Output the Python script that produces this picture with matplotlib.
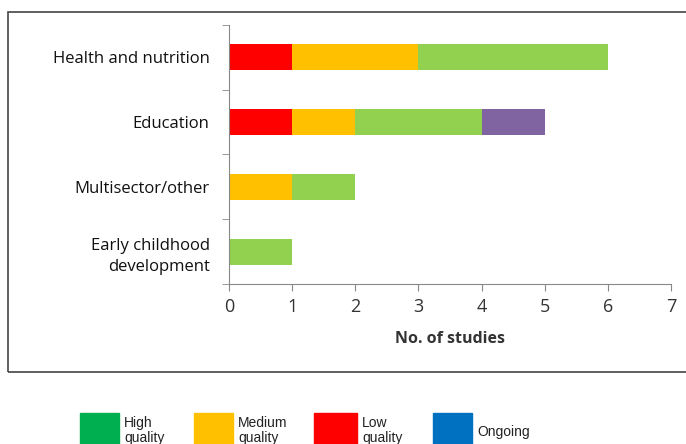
import matplotlib.pyplot as plt
from matplotlib.patches import Rectangle

# categories (top to bottom) and stacked segment values
categories = ["Health and nutrition", "Education", "Multisector/other", "Early childhood\ndevelopment"]
low_quality = [1, 1, 0, 0]
medium_quality = [2, 1, 1, 0]
high_quality = [3, 2, 1, 1]
other = [0, 1, 0, 0]

series = [low_quality, medium_quality, high_quality, other]
bar_colors = ["#ff0000", "#ffc000", "#92d050", "#8064a2"]

legend_labels = ["High\nquality", "Medium\nquality", "Low\nquality", "Ongoing"]
legend_colors = ["#00b050", "#ffc000", "#ff0000", "#0070c0"]

fig = plt.figure(figsize=(6.86, 4.44), dpi=100)
W, H = 686, 444

# outer frame around the chart (right side runs off the canvas)
fig.patches.append(Rectangle((8 / W, 1 - 372 / H), 1.2, (372 - 12) / H,
                             transform=fig.transFigure, fill=False,
                             edgecolor="#444444", linewidth=1.2))

ax = fig.add_axes([229 / W, 1 - 284 / H, (671 - 229) / W, (284 - 25) / H])

ypos = list(range(len(categories)))
left = [0] * len(categories)
for vals, col in zip(series, bar_colors):
    ax.barh(ypos, vals, left=left, color=col, height=0.4)
    left = [a + b for a, b in zip(left, vals)]

ax.set_ylim(len(categories) - 0.5, -0.5)
ax.set_xlim(0, 7)
ax.set_xticks(range(8))
ax.set_yticks(ypos)
ax.set_yticklabels(categories, fontsize=12, fontname="Open Sans", color="#111111",
                   linespacing=1.45)
ax.tick_params(axis="y", length=0, pad=14)
# boundary ticks on y axis
ax.set_yticks([i - 0.5 for i in range(len(categories) + 1)], minor=True)
ax.tick_params(axis="y", which="minor", length=5, color="#888888")
ax.tick_params(axis="x", length=5, color="#888888", labelsize=13, pad=5)
for lbl in ax.get_xticklabels():
    lbl.set_fontname("Open Sans")
    lbl.set_color("#333333")

for s in ["top", "right"]:
    ax.spines[s].set_visible(False)
for s in ["left", "bottom"]:
    ax.spines[s].set_color("#888888")

ax.set_xlabel("No. of studies", fontsize=11.5, fontweight="bold", fontname="Open Sans",
              color="#333333", labelpad=11)

# legend below the frame
lx = [80, 194, 314, 433]
lw = [39, 39, 43, 39]
for x, w, lab, col in zip(lx, lw, legend_labels, legend_colors):
    fig.patches.append(Rectangle((x / W, -0.05), w / W, (444 - 413) / H + 0.05,
                                 transform=fig.transFigure, color=col))
    ty = 1 - 430.5 / H if "\n" in lab else 1 - 432 / H
    fig.text((x + w + 5) / W, ty, lab, fontsize=10, fontname="Liberation Sans",
             va="center", ha="left", linespacing=1.05, color="#222222")

fig.savefig("out.png", dpi=100)
